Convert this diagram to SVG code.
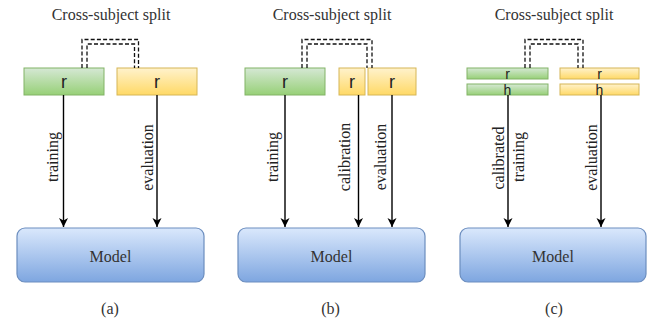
<svg xmlns="http://www.w3.org/2000/svg" width="647" height="321" viewBox="0 0 647 321">
<style>
.title{font-family:"Liberation Serif",serif;font-size:16px;fill:#333;text-anchor:middle}
.lbl{font-family:"Liberation Serif",serif;font-size:16px;fill:#222;text-anchor:middle}
.model{font-family:"Liberation Serif",serif;font-size:16px;fill:#333;text-anchor:middle}
.cap{font-family:"Liberation Serif",serif;font-size:16px;fill:#333;text-anchor:middle}
.r{font-family:"Liberation Sans",Arial,sans-serif;font-size:18px;fill:#222;text-anchor:middle}
.rs{font-family:"Liberation Sans",Arial,sans-serif;font-size:14px;fill:#222;text-anchor:middle}
.green{fill:url(#gGreen);stroke:#82b366;stroke-width:1}
.yellow{fill:url(#gYellow);stroke:#d6b656;stroke-width:1}
.blue{fill:url(#gBlue);stroke:#6c8ebf;stroke-width:1.2}
.arrow{fill:none;stroke:#000;stroke-width:1.4;marker-end:url(#ah)}
.dash{fill:none;stroke:#111;stroke-width:1.3;stroke-dasharray:4 2.2}
</style>
<defs>
<linearGradient id="gGreen" x1="0" y1="0" x2="0" y2="1"><stop offset="0" stop-color="#d5e8d4"/><stop offset="1" stop-color="#97d077"/></linearGradient>
<linearGradient id="gYellow" x1="0" y1="0" x2="0" y2="1"><stop offset="0" stop-color="#fff2cc"/><stop offset="1" stop-color="#ffd966"/></linearGradient>
<linearGradient id="gBlue" x1="0" y1="0" x2="0" y2="1"><stop offset="0" stop-color="#dae8fc"/><stop offset="1" stop-color="#7ea6e0"/></linearGradient>
<marker id="ah" markerUnits="userSpaceOnUse" markerWidth="10" markerHeight="10" refX="9" refY="4.5" orient="auto">
<path d="M0,0 L9,4.5 L0,9 L2.5,4.5 Z" fill="#000"/>
</marker>
</defs>

<!-- Panel (a) -->
<g id="panel-a">
<text class="title" x="111" y="20">Cross-subject split</text>
<g id="a-train"><rect class="green" x="24" y="68" width="80" height="27"/><text class="r" x="64" y="88">r</text></g>
<g id="a-eval"><rect class="yellow" x="117" y="68" width="80" height="27"/><text class="r" x="157" y="88">r</text></g>
<g id="a-model"><rect class="blue" x="17" y="228" width="187" height="54" rx="8"/><text class="model" x="110.5" y="262">Model</text></g>
<text class="cap" x="110" y="314">(a)</text>
</g>

<!-- Panel (b) -->
<g id="panel-b">
<text class="title" x="332" y="20">Cross-subject split</text>
<g id="b-train"><rect class="green" x="245" y="68" width="80" height="27"/><text class="r" x="285" y="88">r</text></g>
<g id="b-calib"><rect class="yellow" x="339" y="68" width="26" height="27"/><text class="r" x="352" y="88">r</text></g>
<g id="b-eval"><rect class="yellow" x="368" y="68" width="48" height="27"/><text class="r" x="392" y="88">r</text></g>
<g id="b-model"><rect class="blue" x="238" y="228" width="187" height="54" rx="8"/><text class="model" x="331.5" y="262">Model</text></g>
<text class="cap" x="330.5" y="314">(b)</text>
</g>

<!-- Panel (c) -->
<g id="panel-c">
<text class="title" x="554" y="20">Cross-subject split</text>
<g id="c-train"><rect class="green" x="467" y="68" width="81" height="11"/><text class="rs" x="507.5" y="78.5">r</text><rect class="green" x="467" y="84" width="81" height="11"/><text class="rs" x="507.5" y="95">h</text></g>
<g id="c-eval"><rect class="yellow" x="560" y="68" width="79" height="11"/><text class="rs" x="599.5" y="78.5">r</text><rect class="yellow" x="560" y="84" width="79" height="11"/><text class="rs" x="599.5" y="95">h</text></g>
<g id="c-model"><rect class="blue" x="460" y="228" width="186" height="54" rx="8"/><text class="model" x="553" y="262">Model</text></g>
<text class="cap" x="554" y="314">(c)</text>
</g>

<!-- Connectors -->
<g id="connectors">
<path class="dash" d="M82,68 V39.5 H138.5 V68"/>
<path class="dash" d="M87,68 V44 H134.5 V68"/>
<path class="dash" d="M302,68 V39.5 H372 V68"/>
<path class="dash" d="M307,68 V44 H367 V68"/>
<path class="dash" d="M525,68 V39.5 H583 V68"/>
<path class="dash" d="M530,68 V44 H578 V68"/>

<path class="arrow" d="M63.5,95 V227"/>
<path class="arrow" d="M157,95 V227"/>
<path class="arrow" d="M285,95 V227"/>
<path class="arrow" d="M358.5,95 V227"/>
<path class="arrow" d="M392,95 V227"/>
<path class="arrow" d="M508,95 V227"/>
<path class="arrow" d="M601,95 V227"/>

<text class="lbl" transform="translate(58,157) rotate(-90)">training</text>
<text class="lbl" transform="translate(153,157.5) rotate(-90)">evaluation</text>
<text class="lbl" transform="translate(277.5,157) rotate(-90)">training</text>
<text class="lbl" transform="translate(350,157) rotate(-90)">calibration</text>
<text class="lbl" transform="translate(385.5,157) rotate(-90)">evaluation</text>
<text class="lbl" transform="translate(504,158) rotate(-90)">calibrated</text>
<text class="lbl" transform="translate(523.5,157) rotate(-90)">training</text>
<text class="lbl" transform="translate(597,157.5) rotate(-90)">evaluation</text>
</g>
</svg>
